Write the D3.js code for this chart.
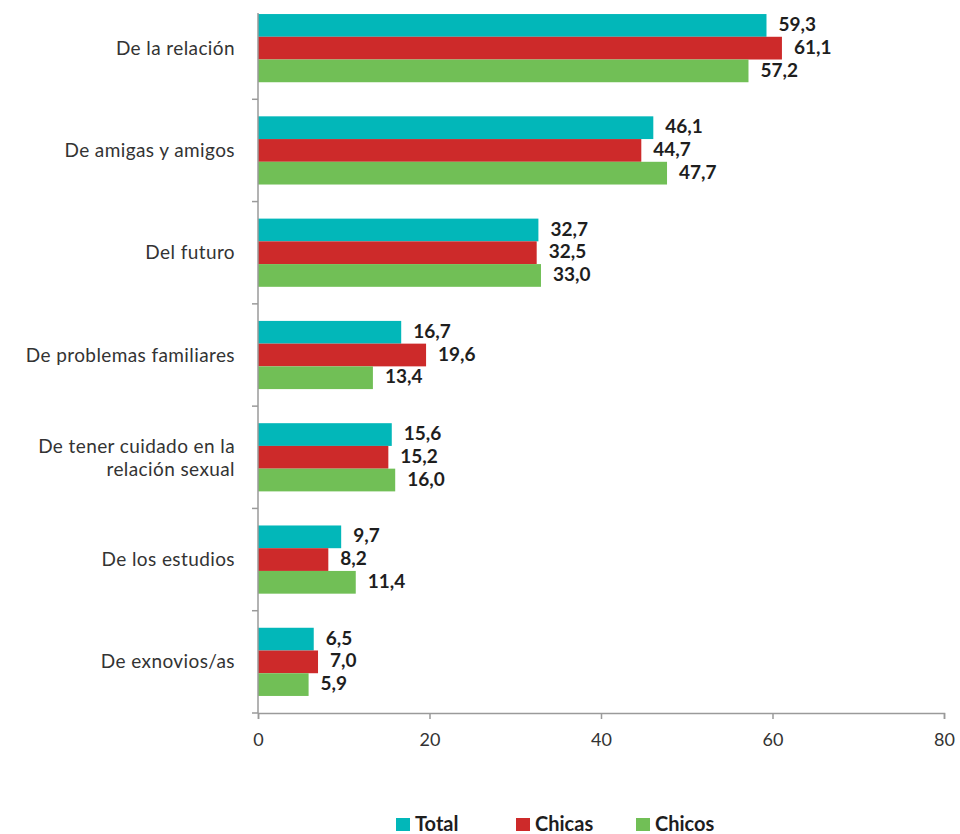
<!DOCTYPE html>
<html>
<head>
<meta charset="utf-8">
<script src="https://cdn.jsdelivr.net/npm/d3@7"></script>
<style>
  body { margin: 0; background: #fff; }
  svg { display: block; font-family: Lato, "Open Sans", sans-serif; }
</style>
</head>
<body>
<script>
// Grouped horizontal bars: topics by group (Total / Chicas / Chicos)

const categories = [
  ['De la relación'],
  ['De amigas y amigos'],
  ['Del futuro'],
  ['De problemas familiares'],
  ['De tener cuidado en la', 'relación sexual'],
  ['De los estudios'],
  ['De exnovios/as']
];
const seriesNames = ['Total', 'Chicas', 'Chicos'];
const seriesColors = ['#02b7b9', '#cd2a2a', '#71bf56'];
const totalValues = [59.3, 46.1, 32.7, 16.7, 15.6, 9.7, 6.5];
const chicasValues = [61.1, 44.7, 32.5, 19.6, 15.2, 8.2, 7.0];
const chicosValues = [57.2, 47.7, 33.0, 13.4, 16.0, 11.4, 5.9];
const xTicks = [0, 20, 40, 60, 80];

const width = 960, height = 834;
const left = 258, right = 944, axisTop = 13, bottom = 713;

const svg = d3.select('body').append('svg')
  .attr('width', width)
  .attr('height', height);

const x = d3.scaleLinear().domain([0, 80]).range([left, right]);

// the top band sits partly above the visible area, as in the original
const y0 = d3.scaleBand()
  .domain(d3.range(categories.length))
  .range([-3, bottom]);

const y1 = d3.scaleBand()
  .domain(seriesNames)
  .range([0, y0.bandwidth()])
  .paddingOuter(0.75);

const rows = categories.map((c, i) => ({
  label: c,
  values: [totalValues[i], chicasValues[i], chicosValues[i]]
}));

const group = svg.selectAll('.grp')
  .data(rows)
  .join('g')
    .attr('class', 'grp')
    .attr('transform', (d, i) => `translate(0,${y0(i)})`);

group.selectAll('rect')
  .data(d => d.values.map((v, j) => ({ v: v, s: seriesNames[j], c: seriesColors[j] })))
  .join('rect')
    .attr('x', x(0))
    .attr('y', d => y1(d.s))
    .attr('width', d => x(d.v) - x(0))
    .attr('height', y1.bandwidth())
    .style('fill', d => d.c);

group.selectAll('.val')
  .data(d => d.values.map((v, j) => ({ v: v, s: seriesNames[j] })))
  .join('text')
    .attr('class', 'val')
    .attr('x', d => x(d.v) + 12)
    .attr('y', d => y1(d.s) + y1.bandwidth() / 2 - 1)
    .attr('dy', '0.35em')
    .style('font-size', '19px')
    .style('font-weight', 'bold')
    .style('fill', '#1e1e1e')
    .text(d => d3.format('.1f')(d.v).replace('.', ','));

// category labels
group.append('text')
  .attr('text-anchor', 'end')
  .attr('x', 235)
  .attr('y', y0.bandwidth() / 2)
  .style('font-size', '19px')
  .style('letter-spacing', '0.4px')
  .style('fill', '#333')
  .selectAll('tspan')
  .data(d => d.label.map((t, k) => ({ t: t, k: k, n: d.label.length })))
  .join('tspan')
    .attr('x', 235)
    .attr('dy', d => d.k == 0 ? (0.35 - (d.n - 1) * 0.6) + 'em' : '1.25em')
    .text(d => d.t);

// axes
const axisColor = '#9a9a9a';
svg.append('line')
  .attr('x1', left).attr('x2', left)
  .attr('y1', axisTop).attr('y2', bottom)
  .style('stroke', axisColor).style('stroke-width', 1.5);

svg.selectAll('.ytick')
  .data(d3.range(categories.length + 1).filter(i => y0.step() * i - 3 > axisTop))
  .join('line')
    .attr('class', 'ytick')
    .attr('x1', left - 6).attr('x2', left)
    .attr('y1', i => -3 + y0.step() * i)
    .attr('y2', i => -3 + y0.step() * i)
    .style('stroke', axisColor).style('stroke-width', 1.5);

const xAxis = svg.append('g')
  .attr('transform', `translate(0,${bottom})`)
  .call(d3.axisBottom(x).tickValues(xTicks).tickSize(6).tickPadding(14));
xAxis.select('.domain').style('stroke', axisColor).style('stroke-width', 1.5);
xAxis.selectAll('.tick line').style('stroke', axisColor).style('stroke-width', 1.5);
xAxis.selectAll('.tick text')
  .style('font-family', 'Lato, "Open Sans", sans-serif')
  .style('font-size', '18px')
  .style('fill', '#333');

// legend
const legendX = [396, 516, 636];
const legend = svg.selectAll('.leg')
  .data(seriesNames)
  .join('g')
    .attr('class', 'leg')
    .attr('transform', (d, i) => `translate(${legendX[i]},818)`);
legend.append('rect')
  .attr('width', 14).attr('height', 13)
  .style('fill', (d, i) => seriesColors[i]);
legend.append('text')
  .attr('x', 19).attr('y', 13)
  .style('font-size', '20px')
  .style('font-weight', 'bold')
  .style('fill', '#1e1e1e')
  .text(d => d);
</script>
</body>
</html>
